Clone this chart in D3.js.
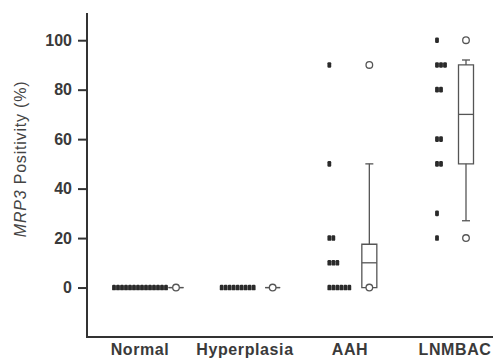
<!DOCTYPE html>
<html>
<head>
    <meta charset="UTF-8">
    <title>MRP3 positivity</title>
    <script src="https://d3js.org/d3.v7.min.js"></script>
    <style>
        body { margin: 0; background: #fff; }
        .axis path, .axis line { stroke: #333; stroke-width: 2px; }
        .axis text { font: bold 16px "Liberation Sans", Arial, sans-serif; fill: #3a3a3a; }
        .cat-label { font: bold 16px "Liberation Sans", Arial, sans-serif; fill: #3a3a3a; letter-spacing: 0.6px; }
        .y-title { font: 16px "Liberation Sans", Arial, sans-serif; fill: #444; letter-spacing: 0.8px; }
        .dot { fill: #2a2a2a; }
        .box { fill: none; stroke: #555; stroke-width: 1.3px; }
        .outlier { fill: #fff; stroke: #555; stroke-width: 1.3px; }
    </style>
</head>
<body>
<div id="chart"></div>
<script>
    // groups and the individual scores (one dot per case)
    const categories = ["Normal", "Hyperplasia", "AAH", "LNMBAC"];
    const normalScores = [0, 0, 0, 0, 0, 0, 0, 0, 0, 0, 0, 0, 0, 0];
    const hyperplasiaScores = [0, 0, 0, 0, 0, 0, 0, 0, 0];
    const aahScores = [0, 0, 0, 0, 0, 0, 10, 10, 10, 20, 20, 50, 90];
    const lnmbacScores = [20, 30, 50, 50, 60, 60, 80, 80, 90, 90, 90, 100];

    // box plot summary per group
    const boxQ1 = [0, 0, 0, 50];
    const boxMedian = [0, 0, 10, 70];
    const boxQ3 = [0, 0, 17.5, 90];
    const whiskerLow = [0, 0, 0, 27];
    const whiskerHigh = [0, 0, 50, 92];
    const outliers = [[0], [0], [0, 90], [20, 100]];

    const yTicks = [0, 20, 40, 60, 80, 100];

    const scores = [normalScores, hyperplasiaScores, aahScores, lnmbacScores];

    const width = 497, height = 359;
    const pitch = 4;      // horizontal step between tied dots
    const boxW = 15;
    const capW = 8;

    const svg = d3.select("#chart").append("svg")
        .attr("width", width)
        .attr("height", height);

    const y = d3.scaleLinear().domain([-20, 111]).range([337, 13]);
    const xLabel = d3.scalePoint().domain(categories).range([140, 455]);
    const xDots = d3.scalePoint().domain(categories).range([114, 437]);
    const xBox = d3.scalePoint().domain(categories).range([176, 466]);

    // y axis
    const yAxis = svg.append("g")
        .attr("class", "axis")
        .attr("transform", "translate(87,0)")
        .call(d3.axisLeft(y).tickValues(yTicks).tickSize(9).tickPadding(6).tickSizeOuter(0));
    yAxis.select(".domain").attr("d", `M0,${y(111)}V${y(-20)}`);

    // x axis line only
    svg.append("line")
        .attr("x1", 86).attr("x2", 493)
        .attr("y1", y(-20)).attr("y2", y(-20))
        .attr("stroke", "#333").attr("stroke-width", 2);

    svg.selectAll(".cat-label")
        .data(categories)
        .join("text")
        .attr("class", "cat-label")
        .attr("x", d => xLabel(d))
        .attr("y", 355)
        .attr("text-anchor", "middle")
        .text(d => d);

    // y title
    const title = svg.append("text")
        .attr("class", "y-title")
        .attr("transform", `translate(26,${y(52)}) rotate(-90)`)
        .attr("text-anchor", "middle");
    title.append("tspan").attr("font-style", "italic").text("MRP3");
    title.append("tspan").text(" Positivity (%)");

    // dots: tied values spread to the right
    categories.forEach((cat, i) => {
        const counts = d3.rollups(scores[i], v => v.length, d => d);
        const pts = [];
        counts.forEach(([val, n]) => {
            for (let k = 0; k < n; k++) pts.push({val, k});
        });
        svg.append("g").selectAll("rect")
            .data(pts)
            .join("rect")
            .attr("class", "dot")
            .attr("x", d => xDots(cat) + d.k * pitch - 1.9)
            .attr("y", d => y(d.val) - 2.8)
            .attr("width", 3.8)
            .attr("height", 5.6)
            .attr("rx", 1.2);
    });

    // boxes
    categories.forEach((cat, i) => {
        const cx = xBox(cat);
        const g = svg.append("g");
        const x0 = cx - boxW / 2, x1 = cx + boxW / 2;
        g.append("path")
            .attr("class", "box")
            .attr("d", `M${x0},${y(boxQ3[i])}H${x1}V${y(boxQ1[i])}H${x0}Z`);
        g.append("line").attr("class", "box")
            .attr("x1", x0).attr("x2", x1)
            .attr("y1", y(boxMedian[i])).attr("y2", y(boxMedian[i]));
        if (whiskerHigh[i] > boxQ3[i]) {
            g.append("line").attr("class", "box")
                .attr("x1", cx).attr("x2", cx)
                .attr("y1", y(boxQ3[i])).attr("y2", y(whiskerHigh[i]));
            g.append("line").attr("class", "box")
                .attr("x1", cx - capW / 2).attr("x2", cx + capW / 2)
                .attr("y1", y(whiskerHigh[i])).attr("y2", y(whiskerHigh[i]));
        }
        if (whiskerLow[i] < boxQ1[i]) {
            g.append("line").attr("class", "box")
                .attr("x1", cx).attr("x2", cx)
                .attr("y1", y(boxQ1[i])).attr("y2", y(whiskerLow[i]));
            g.append("line").attr("class", "box")
                .attr("x1", cx - capW / 2).attr("x2", cx + capW / 2)
                .attr("y1", y(whiskerLow[i])).attr("y2", y(whiskerLow[i]));
        }
        g.selectAll("circle")
            .data(outliers[i])
            .join("circle")
            .attr("class", "outlier")
            .attr("cx", cx)
            .attr("cy", d => y(d))
            .attr("r", 3.3);
    });
</script>
</body>
</html>
